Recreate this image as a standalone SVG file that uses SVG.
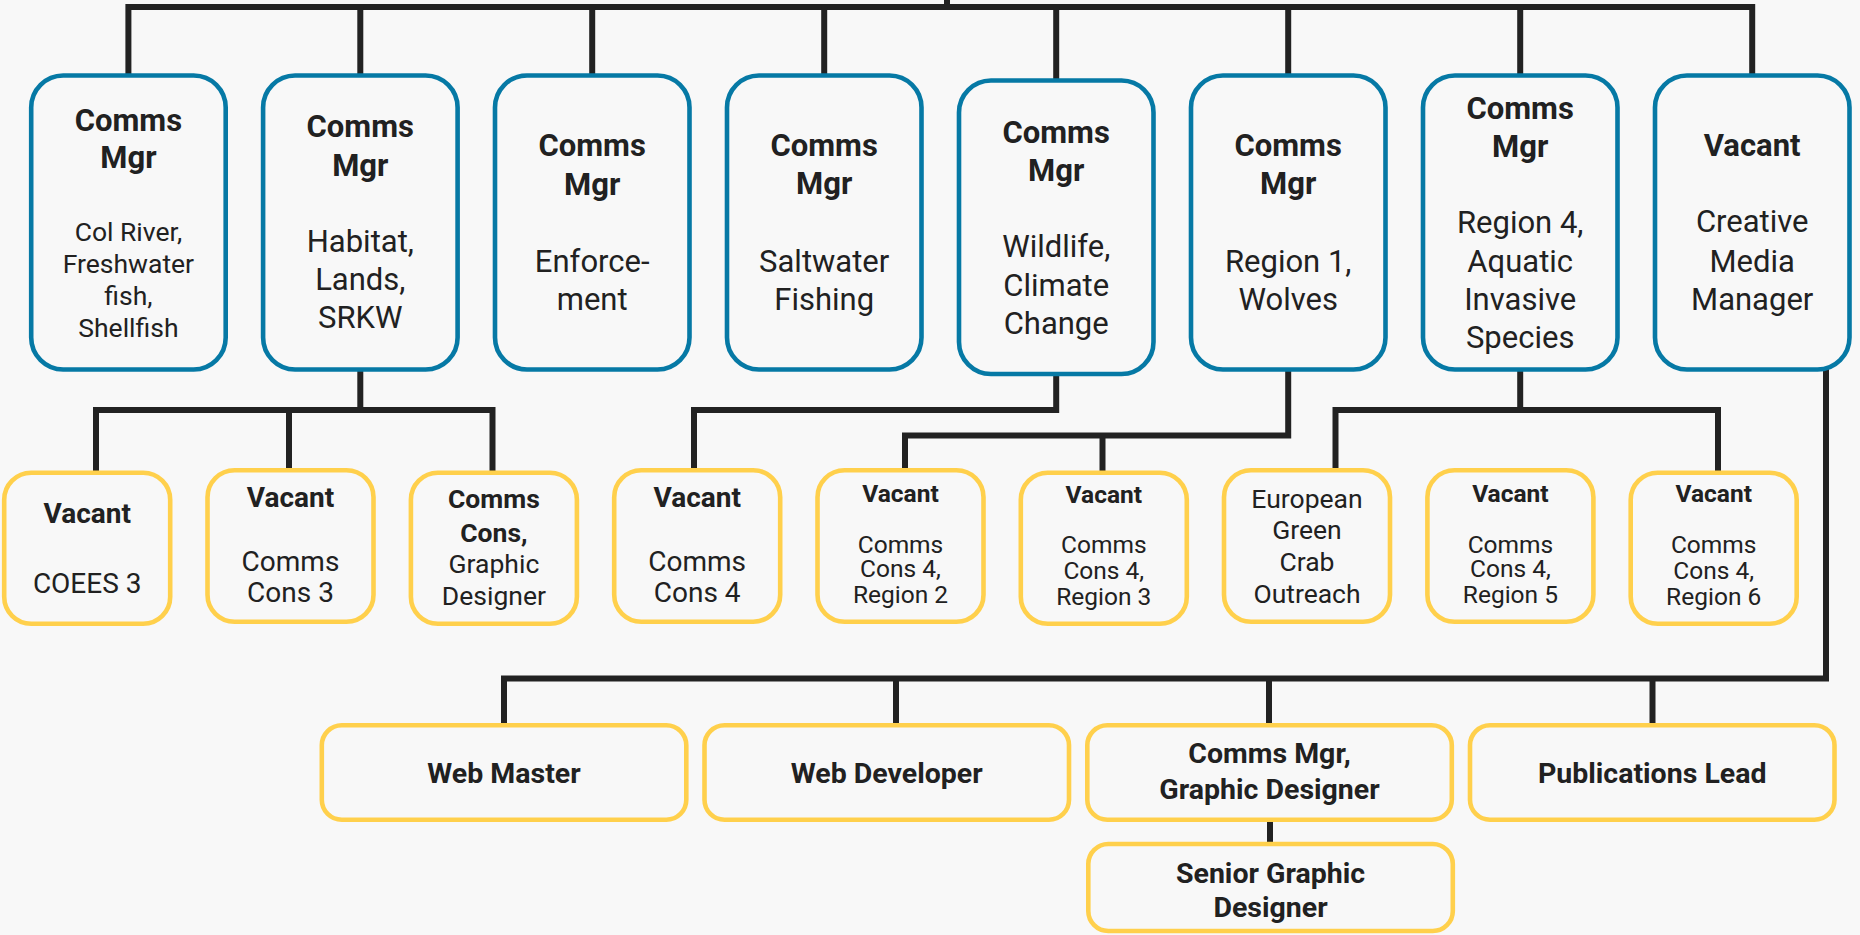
<svg xmlns="http://www.w3.org/2000/svg" width="1860" height="935" viewBox="0 0 1860 935">
<style>
.bg{fill:#F8F8F8}
.conn{fill:none;stroke:#222222;stroke-width:6;stroke-linejoin:miter;stroke-linecap:butt}
.mgr{fill:#F8F8F8;stroke:#0679A5;stroke-width:4.6}
.pos{fill:#F8F8F8;stroke:#FFD04C;stroke-width:4.6}
text{font-family:Roboto,"Liberation Sans",sans-serif;fill:#212121;text-anchor:middle}
.b{font-weight:bold}
.t31{font-size:31px}
.t26{font-size:26.5px}
.t28{font-size:28px}
.t265{font-size:26.5px}
.t25{font-size:24.5px}
.t29{font-size:28.5px}
</style>
<rect class="bg" x="0" y="0" width="1860" height="935"/>
<g id="connectors">
<path class="conn" d="M947,0 V7"/>
<path class="conn" d="M128.4,76 V7 H1752.2 V76"/>
<path class="conn" d="M360.3,7 V76 M592.2,7 V76 M824.2,7 V76 M1056.2,7 V81 M1288.2,7 V76 M1520.2,7 V76"/>
<path class="conn" d="M360.3,369 V410"/>
<path class="conn" d="M96,471 V410 H492.5 V472"/>
<path class="conn" d="M289,410 V470"/>
<path class="conn" d="M1056.2,373 V410 H694 V471"/>
<path class="conn" d="M1288.2,369 V435.5 H905 V470"/>
<path class="conn" d="M1102.5,435.5 V472"/>
<path class="conn" d="M1520.2,369 V410"/>
<path class="conn" d="M1335.5,471 V410 H1718 V472"/>
<path class="conn" d="M1826,369 V678.5 H504 V725"/>
<path class="conn" d="M896,678.5 V725 M1269,678.5 V725 M1652.5,678.5 V725"/>
<path class="conn" d="M1270,820 V844"/>
</g>
<g id="n1"><rect class="mgr" x="31.2" y="75.5" width="194.5" height="294" rx="32"/>
<text class="b t31" x="128.4" y="130.5">Comms</text><text class="b t31" x="128.4" y="168">Mgr</text>
<text class="t26" x="128.4" y="240.7">Col River,</text><text class="t26" x="128.4" y="272.7">Freshwater</text><text class="t26" x="128.4" y="305">fish,</text><text class="t26" x="128.4" y="336.7">Shellfish</text></g>
<g id="n2"><rect class="mgr" x="263.1" y="75.5" width="194.5" height="294" rx="32"/>
<text class="b t31" x="360.3" y="136.7">Comms</text><text class="b t31" x="360.3" y="176">Mgr</text>
<text class="t31" x="360.3" y="252">Habitat,</text><text class="t31" x="360.3" y="290">Lands,</text><text class="t31" x="360.3" y="328">SRKW</text></g>
<g id="n3"><rect class="mgr" x="495" y="75.5" width="194.5" height="294" rx="32"/>
<text class="b t31" x="592.2" y="156">Comms</text><text class="b t31" x="592.2" y="194.5">Mgr</text>
<text class="t31" x="592.2" y="271.7">Enforce-</text><text class="t31" x="592.2" y="309.7">ment</text></g>
<g id="n4"><rect class="mgr" x="727" y="75.5" width="194.5" height="294" rx="32"/>
<text class="b t31" x="824.2" y="156">Comms</text><text class="b t31" x="824.2" y="194.3">Mgr</text>
<text class="t31" x="824.2" y="271.7">Saltwater</text><text class="t31" x="824.2" y="310">Fishing</text></g>
<g id="n5"><rect class="mgr" x="959" y="80.5" width="194.5" height="293.5" rx="32"/>
<text class="b t31" x="1056.2" y="142.7">Comms</text><text class="b t31" x="1056.2" y="181">Mgr</text>
<text class="t31" x="1056.2" y="257.3">Wildlife,</text><text class="t31" x="1056.2" y="296">Climate</text><text class="t31" x="1056.2" y="333.5">Change</text></g>
<g id="n6"><rect class="mgr" x="1191" y="75.5" width="194.5" height="294" rx="32"/>
<text class="b t31" x="1288.2" y="156">Comms</text><text class="b t31" x="1288.2" y="194.3">Mgr</text>
<text class="t31" x="1288.2" y="271.7">Region 1,</text><text class="t31" x="1288.2" y="310">Wolves</text></g>
<g id="n7"><rect class="mgr" x="1423" y="75.5" width="194.5" height="294" rx="32"/>
<text class="b t31" x="1520.2" y="119">Comms</text><text class="b t31" x="1520.2" y="157.3">Mgr</text>
<text class="t31" x="1520.2" y="233.3">Region 4,</text><text class="t31" x="1520.2" y="271.7">Aquatic</text><text class="t31" x="1520.2" y="310">Invasive</text><text class="t31" x="1520.2" y="348.3">Species</text></g>
<g id="n8"><rect class="mgr" x="1655" y="75.5" width="194.5" height="294" rx="32"/>
<text class="b t31" x="1752.2" y="156">Vacant</text>
<text class="t31" x="1752.2" y="232.3">Creative</text><text class="t31" x="1752.2" y="271.7">Media</text><text class="t31" x="1752.2" y="310">Manager</text></g>
<g id="s1"><rect class="pos" x="4.2" y="472.7" width="166" height="151" rx="27"/>
<text class="b t28" x="87.2" y="522.7">Vacant</text><text class="t28" x="87.2" y="593.3">COEES 3</text></g>
<g id="s2"><rect class="pos" x="207.5" y="470.2" width="166" height="151.5" rx="27"/>
<text class="b t28" x="290.5" y="506.7">Vacant</text><text class="t28" x="290.5" y="570.7">Comms</text><text class="t28" x="290.5" y="601.7">Cons 3</text></g>
<g id="s3"><rect class="pos" x="410.9" y="472.7" width="166" height="151" rx="27"/>
<text class="b t265" x="493.9" y="508.3">Comms</text><text class="b t265" x="493.9" y="541.7">Cons,</text><text class="t265" x="493.9" y="573.3">Graphic</text><text class="t265" x="493.9" y="605">Designer</text></g>
<g id="s4"><rect class="pos" x="614.2" y="470.2" width="166" height="151.5" rx="27"/>
<text class="b t28" x="697.2" y="506.7">Vacant</text><text class="t28" x="697.2" y="570.7">Comms</text><text class="t28" x="697.2" y="601.7">Cons 4</text></g>
<g id="s5"><rect class="pos" x="817.5" y="470.2" width="166" height="151.5" rx="27"/>
<text class="b t25" x="900.5" y="501.7">Vacant</text><text class="t25" x="900.5" y="552.7">Comms</text><text class="t25" x="900.5" y="577.3">Cons 4,</text><text class="t25" x="900.5" y="602.7">Region 2</text></g>
<g id="s6"><rect class="pos" x="1020.8" y="472.7" width="166" height="151" rx="27"/>
<text class="b t25" x="1103.8" y="503.3">Vacant</text><text class="t25" x="1103.8" y="553.3">Comms</text><text class="t25" x="1103.8" y="579.3">Cons 4,</text><text class="t25" x="1103.8" y="605.3">Region 3</text></g>
<g id="s7"><rect class="pos" x="1224" y="470.2" width="166" height="151.5" rx="27"/>
<text class="t265" x="1307" y="508.3">European</text><text class="t265" x="1307" y="539.3">Green</text><text class="t265" x="1307" y="571">Crab</text><text class="t265" x="1307" y="602.7">Outreach</text></g>
<g id="s8"><rect class="pos" x="1427.4" y="470.2" width="166" height="151.5" rx="27"/>
<text class="b t25" x="1510.4" y="501.7">Vacant</text><text class="t25" x="1510.4" y="552.7">Comms</text><text class="t25" x="1510.4" y="577.3">Cons 4,</text><text class="t25" x="1510.4" y="602.7">Region 5</text></g>
<g id="s9"><rect class="pos" x="1630.7" y="472.7" width="166" height="151" rx="27"/>
<text class="b t25" x="1713.7" y="502.3">Vacant</text><text class="t25" x="1713.7" y="552.7">Comms</text><text class="t25" x="1713.7" y="579">Cons 4,</text><text class="t25" x="1713.7" y="605">Region 6</text></g>
<g id="w1"><rect class="pos" x="321.8" y="725.3" width="364.5" height="94.5" rx="20"/>
<text class="b t29" x="504" y="783.3">Web Master</text></g>
<g id="w2"><rect class="pos" x="704.5" y="725.3" width="364.5" height="94.5" rx="20"/>
<text class="b t29" x="886.7" y="783.3">Web Developer</text></g>
<g id="w3"><rect class="pos" x="1087.3" y="725.3" width="364.5" height="94.5" rx="20"/>
<text class="b t29" x="1269.5" y="763.3">Comms Mgr,</text><text class="b t29" x="1269.5" y="799.3">Graphic Designer</text></g>
<g id="w4"><rect class="pos" x="1470" y="725.3" width="364.5" height="94.5" rx="20"/>
<text class="b t29" x="1652.2" y="783.3">Publications Lead</text></g>
<g id="w5"><rect class="pos" x="1088.3" y="844" width="364.5" height="87" rx="20"/>
<text class="b t29" x="1270.5" y="882.7">Senior Graphic</text><text class="b t29" x="1270.5" y="916.7">Designer</text></g>
</svg>
